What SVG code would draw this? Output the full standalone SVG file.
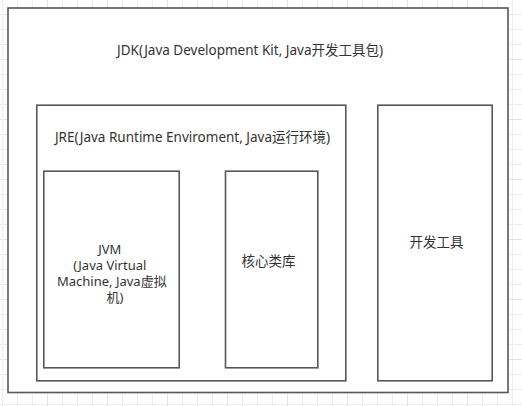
<svg xmlns="http://www.w3.org/2000/svg" width="522" height="406" viewBox="0 0 522 406">
  <style>
    .box { fill: #ffffff; stroke: #54585d; stroke-width: 1.6; }
    .lbl { font-family: "Noto Sans", "Noto Sans CJK SC", sans-serif; font-size: 13.5px; fill: #333333; text-anchor: middle; }
    .small { font-size: 13px; }
  </style>
  <defs>
    <pattern id="grid" patternUnits="userSpaceOnUse" x="2" y="-1" width="60" height="60">
      <path d="M15.5 0V60M30.5 0V60M0 15.5H60M0 30.5H60M0 45.5H60" stroke="#eeeeee" stroke-width="1" fill="none"/>
      <path d="M45.5 0V60M0 0.5H60" stroke="#e3e3e3" stroke-width="1" fill="none"/>
      <path d="M0.5 0V60" stroke="#eeeeee" stroke-width="1" fill="none"/>
    </pattern>
  </defs>
  <rect x="0" y="0" width="522" height="406" fill="#ffffff"/>
  <rect x="0" y="0" width="522" height="406" fill="url(#grid)"/>

  <g id="jdk">
    <rect class="box" x="8" y="8" width="500" height="384.5"/>
    <text class="lbl" x="250" y="55">JDK(Java Development Kit, Java开发工具包)</text>
  </g>
  <g id="jre">
    <rect class="box" x="36.8" y="105.2" width="309" height="275.6"/>
    <text class="lbl" x="192.5" y="141.5">JRE(Java Runtime Enviroment, Java运行环境)</text>
  </g>
  <g id="jvm">
    <rect class="box" x="43.8" y="171.2" width="135.4" height="196.6"/>
    <text class="lbl small">
      <tspan x="111.5" y="254">JVM</tspan>
      <tspan x="111.5" y="270">(Java Virtual</tspan>
      <tspan x="113.5" y="286">Machine, Java虚拟</tspan>
      <tspan x="115" y="302">机)</tspan>
    </text>
  </g>
  <g id="core-lib">
    <rect class="box" x="225.5" y="171.2" width="92.3" height="196.6"/>
    <text class="lbl" x="268.5" y="266">核心类库</text>
  </g>
  <g id="dev-tools">
    <rect class="box" x="377.8" y="105.2" width="114.4" height="275.6"/>
    <text class="lbl" x="436.5" y="246.5">开发工具</text>
  </g>
  <g id="connectors"/>
</svg>
